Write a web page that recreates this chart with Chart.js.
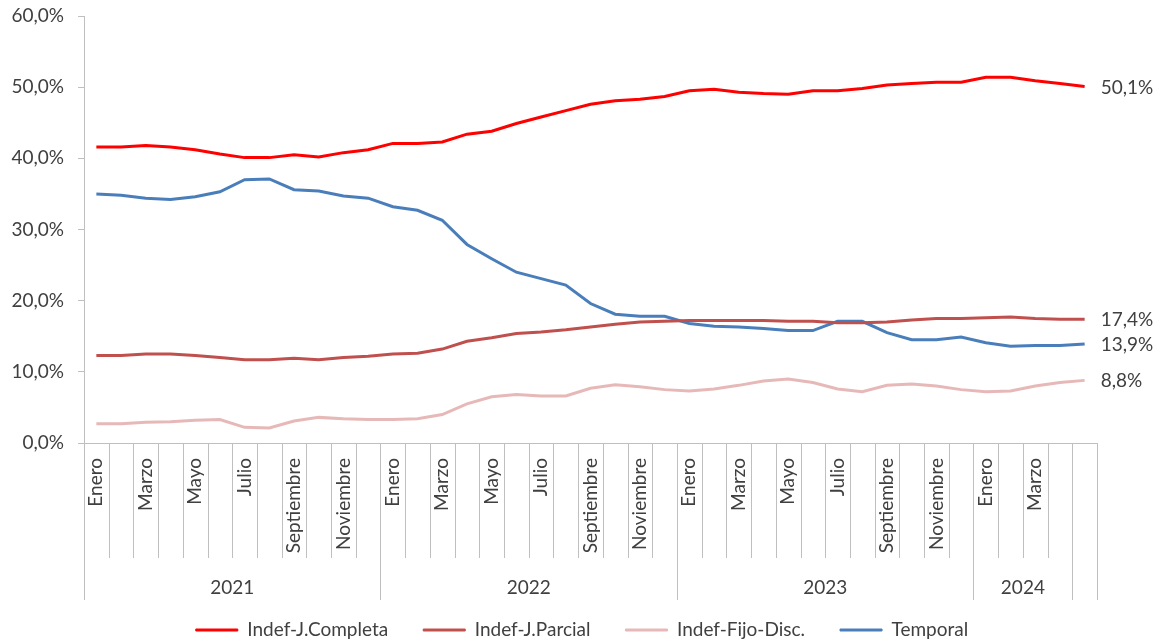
<!DOCTYPE html>
<html>
<head>
<meta charset="utf-8">
<script src="https://cdn.jsdelivr.net/npm/chart.js@4/dist/chart.umd.min.js"></script>
<style>
html,body{margin:0;padding:0;background:#ffffff;}
#wrap{width:1164px;height:642px;position:relative;}
</style>
</head>
<body>
<div id="wrap"><canvas id="c"></canvas></div>
<script>
// ---- data ----
const months = [
  'Enero','Febrero','Marzo','Abril','Mayo','Junio','Julio','Agosto','Septiembre','Octubre','Noviembre','Diciembre',
  'Enero','Febrero','Marzo','Abril','Mayo','Junio','Julio','Agosto','Septiembre','Octubre','Noviembre','Diciembre',
  'Enero','Febrero','Marzo','Abril','Mayo','Junio','Julio','Agosto','Septiembre','Octubre','Noviembre','Diciembre',
  'Enero','Febrero','Marzo','Abril',
  ''
];
const yearLabels = ['2021','2022','2023','2024',''];
const yearSizes  = [12,12,12,4,1];

const indefCompleta = [41.6,41.6,41.8,41.6,41.2,40.6,40.1,40.1,40.5,40.2,40.8,41.2,
  42.1,42.1,42.3,43.4,43.8,44.9,45.8,46.7,47.6,48.1,48.3,48.7,
  49.5,49.7,49.3,49.1,49.0,49.5,49.5,49.8,50.3,50.5,50.7,50.7,
  51.4,51.4,50.9,50.5,50.1];
const indefParcial = [12.3,12.3,12.5,12.5,12.3,12.0,11.7,11.7,11.9,11.7,12.0,12.2,
  12.5,12.6,13.2,14.3,14.8,15.4,15.6,15.9,16.3,16.7,17.0,17.1,
  17.2,17.2,17.2,17.2,17.1,17.1,16.9,16.9,17.0,17.3,17.5,17.5,
  17.6,17.7,17.5,17.4,17.4];
const indefFijoDisc = [2.7,2.7,2.9,3.0,3.2,3.3,2.2,2.1,3.1,3.6,3.4,3.3,
  3.3,3.4,4.0,5.5,6.5,6.8,6.6,6.6,7.7,8.2,7.9,7.5,
  7.3,7.6,8.1,8.7,9.0,8.5,7.6,7.2,8.1,8.3,8.0,7.5,
  7.2,7.3,8.0,8.5,8.8];
const temporal = [35.0,34.8,34.4,34.2,34.6,35.3,37.0,37.1,35.6,35.4,34.7,34.4,
  33.2,32.7,31.3,27.9,25.9,24.0,23.1,22.2,19.6,18.1,17.8,17.8,
  16.8,16.4,16.3,16.1,15.8,15.8,17.1,17.1,15.5,14.5,14.5,14.9,
  14.1,13.6,13.7,13.7,13.9];
const seriesNames = ['Indef-J.Completa','Indef-J.Parcial','Indef-Fijo-Disc.','Temporal'];
const yTicks = [0,10,20,30,40,50,60];

// ---- style ----
const FONT = 'Lato, "Open Sans", sans-serif';
const FS = 19;
const TEXT = '#404040';
const AXIS = '#bfbfbf';
const colors = ['#ff0000','#c0504d','#e6b9b8','#4a7ebb'];
const fmt = v => v.toFixed(1).replace('.', ',') + '%';

const seriesData = [indefCompleta, indefParcial, indefFijoDisc, temporal];

const axisPlugin = {
  id: 'multiAxis',
  afterDraw(chart) {
    const ctx = chart.ctx;
    const xs = chart.scales.x;
    const top = chart.chartArea.bottom;
    const n = months.length;
    const half = (xs.getPixelForValue(1) - xs.getPixelForValue(0)) / 2;
    const edge = i => (i < n ? xs.getPixelForValue(i) - half : xs.getPixelForValue(n - 1) + half);
    const yb = new Set([0]);
    let acc = 0;
    yearSizes.forEach(s => { acc += s; yb.add(acc); });
    ctx.save();
    ctx.strokeStyle = AXIS;
    ctx.lineWidth = 1;
    for (let i = 0; i <= n; i++) {
      const px = Math.round(edge(i)) + 0.5;
      const len = yb.has(i) ? 157 : 115;
      ctx.beginPath();
      ctx.moveTo(px, top);
      ctx.lineTo(px, top + len);
      ctx.stroke();
    }
    ctx.fillStyle = TEXT;
    ctx.font = FS + 'px ' + FONT;
    ctx.textAlign = 'center';
    ctx.textBaseline = 'middle';
    acc = 0;
    yearSizes.forEach((s, k) => {
      const cx = (edge(acc) + edge(acc + s)) / 2;
      ctx.fillText(yearLabels[k], cx, top + 145);
      acc += s;
    });
    ctx.textAlign = 'left';
    chart.data.datasets.forEach((ds, d) => {
      const meta = chart.getDatasetMeta(d);
      const pt = meta.data[meta.data.length - 1];
      ctx.fillText(fmt(ds.data[ds.data.length - 1]), pt.x + 16, pt.y + 1);
    });
    ctx.restore();
  }
};

new Chart(document.getElementById('c'), {
  type: 'line',
  data: {
    labels: months,
    datasets: seriesNames.map((name, i) => ({
      label: name,
      data: seriesData[i],
      borderColor: colors[i],
      backgroundColor: colors[i],
      borderWidth: 3,
      pointRadius: 0,
      pointHoverRadius: 0,
      tension: 0,
      fill: false
    }))
  },
  options: {
    responsive: true,
    maintainAspectRatio: false,
    animation: false,
    layout: { padding: { top: 16, right: 0, bottom: -7.5, left: 0 } },
    plugins: {
      tooltip: { enabled: false },
      legend: {
        position: 'bottom',
        labels: {
          boxWidth: 42,
          boxHeight: 2,
          padding: 35,
          color: TEXT,
          font: { family: FONT, size: FS },
          generateLabels: chart => Chart.defaults.plugins.legend.labels.generateLabels(chart)
            .map(l => Object.assign(l, { lineWidth: 1 }))
        }
      }
    },
    scales: {
      x: {
        type: 'category',
        offset: true,
        grid: { display: true, drawOnChartArea: false, drawTicks: false, color: AXIS },
        border: { display: true, color: AXIS },
        ticks: {
          autoSkip: false,
          minRotation: 90,
          maxRotation: 90,
          padding: 15,
          color: TEXT,
          font: { family: FONT, size: FS },
          callback: (v, idx) => (idx % 2 === 0 ? months[idx] : '')
        },
        afterFit: s => { s.height = 142.5; s.paddingLeft = 0; s.paddingRight = 0; }
      },
      y: {
        min: 0,
        max: 60,
        afterBuildTicks: s => { s.ticks = yTicks.map(v => ({ value: v })); },
        grid: { display: true, drawOnChartArea: false, drawTicks: true, tickLength: 6, color: AXIS },
        border: { display: true, color: AXIS },
        ticks: {
          padding: 14,
          color: TEXT,
          font: { family: FONT, size: FS },
          callback: v => fmt(v)
        },
        afterFit: s => { s.width = 84; s.paddingTop = 0; s.paddingBottom = 0; }
      },
      yRight: {
        type: 'linear',
        position: 'right',
        min: 0,
        max: 60,
        display: true,
        grid: { display: false },
        border: { display: false },
        ticks: { display: false },
        afterFit: s => { s.width = 67; s.paddingTop = 0; s.paddingBottom = 0; }
      }
    }
  },
  plugins: [axisPlugin]
});
</script>
</body>
</html>
